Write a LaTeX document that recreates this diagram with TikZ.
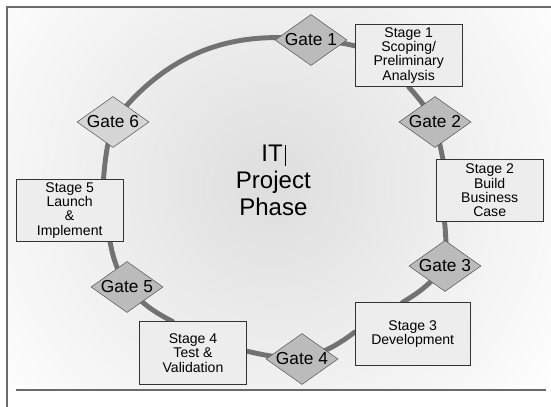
\documentclass[tikz,border=0pt]{standalone}
\usepackage{fontspec}
\setmainfont{Liberation Sans}
\usetikzlibrary{shapes.geometric}
\pgfdeclarelayer{background}
\pgfsetlayers{background,main}
\definecolor{ringgray}{HTML}{727272}
\definecolor{gatefill}{HTML}{BBBBBB}
\definecolor{gatelight}{HTML}{D6D6D6}
\definecolor{boxfill}{HTML}{EDEDED}
\definecolor{framegray}{HTML}{6A6A6A}

\begin{document}
\begin{tikzpicture}[gate/.style = {diamond, draw=black!70, fill=gatefill, aspect=1.4, inner sep=0, minimum width=2.16cm, minimum height=1.53cm, font=\fontsize{14.8}{16}\selectfont},
    stage/.style = {rectangle, draw=black!80, fill=boxfill, align=center, inner sep=0, minimum width=3.2cm, minimum height=1.88cm, font=\fontsize{12}{12.2}\selectfont},
    ring/.style = {line width=4.2pt, draw=ringgray, line cap=round}]
    \useasboundingbox (0,0) rectangle (16.53,12.21);

    \begin{pgfonlayer}{background}
      \begin{scope}
        \clip (0.21,0.51) rectangle (16.53,12.0);
        \shade[inner color=gray!26, outer color=white] (8.16,6.66) circle (10.6);
      \end{scope}
    \end{pgfonlayer}

    \draw[framegray, line width=1.6pt] (0.21,0) -- (0.21,12.0) -- (16.53,12.0);
    \draw[framegray, line width=1.6pt] (0.48,0.51) -- (16.38,0.51);

    \node[gate]                        (G1) at (9.33,11.01) {Gate 1};
    \node[stage]                       (S1) at (12.26,10.55) {Stage 1\\Scoping/\\Preliminary\\Analysis};
    \node[gate]                        (G2) at (13.05,8.55) {Gate 2};
    \node[stage]                       (S2) at (14.69,6.50) {Stage 2\\Build\\Business\\Case};
    \node[gate]                        (G3) at (13.35,4.23) {Gate 3};
    \node[stage, minimum width=3.45cm] (S3) at (12.38,2.19) {Stage 3\\Development};
    \node[gate]                        (G4) at (9.06,1.44) {Gate 4};
    \node[stage]                       (S4) at (5.79,1.62) {Stage 4\\Test \&\\Validation};
    \node[gate]                        (G5) at (3.81,3.60) {Gate 5};
    \node[stage]                       (S5) at (2.09,5.90) {Stage 5\\Launch\\\&\\Implement};
    \node[gate, fill=gatelight]        (G6) at (3.39,8.55) {Gate 6};

    \node[align=center, font=\fontsize{20.5}{23}\selectfont] (title) at (8.2,6.8) {IT\hspace{1.5pt}\rule[-3.4pt]{0.6pt}{18pt}\\Project\\Phase};

    \begin{pgfonlayer}{background}
      \draw[ring] (G1.center) to[bend left=5]  (S1.170);
      \draw[ring] (S1.south)  to[bend left=5]  (G2.center);
      \draw[ring] (G2.center) to               (S2.146);
      \draw[ring] (S2.215)    to[bend left=5]  (G3.center);
      \draw[ring] (G3.center) to[bend left=10] (S3.108);
      \draw[ring] (S3.178)    to[bend left=10] (G4.center);
      \draw[ring] (G4.center) to[bend left=5]  (S4.2);
      \draw[ring] (S4.123)    to[bend left=10] (G5.center);
      \draw[ring] (G5.center) to[bend left=10] (S5.322);
      \draw[ring] (S5.43)     to[bend left=5]  (G6.center);
      \draw[ring] (G6.center) to[bend left=30] (G1.center);
    \end{pgfonlayer}
  \end{tikzpicture}
\end{document}
